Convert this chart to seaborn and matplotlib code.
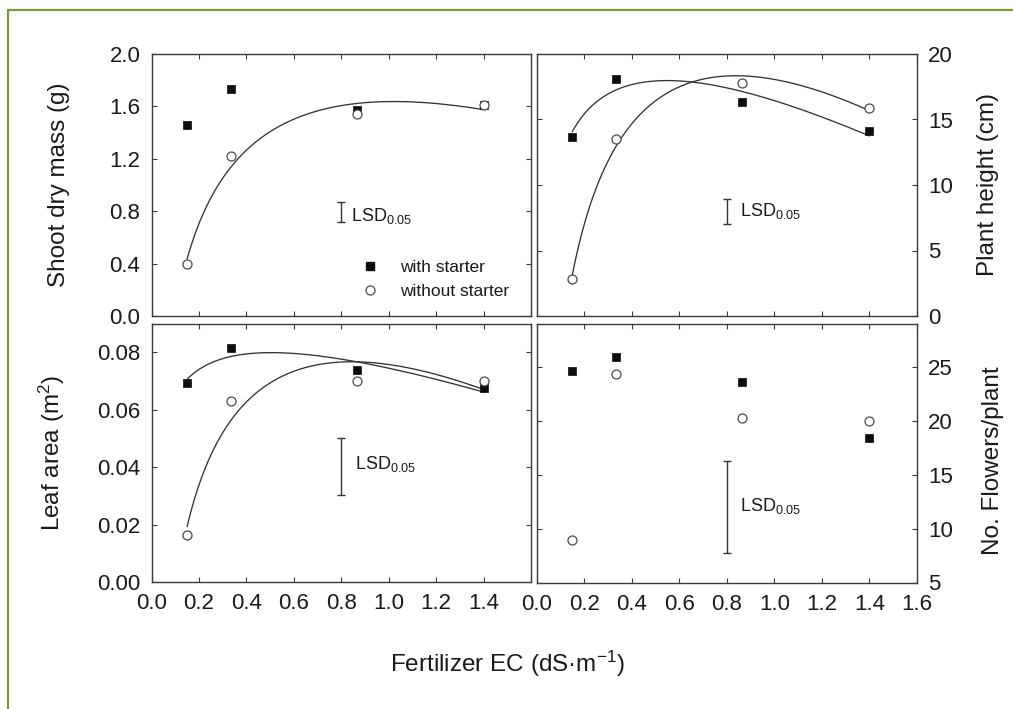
import numpy as np
import matplotlib
matplotlib.use("Agg")
import matplotlib.pyplot as plt
import seaborn as sns
from matplotlib.lines import Line2D

# ---------------- data ----------------
ec = [0.15, 0.335, 0.865, 1.40]

shoot_with = [1.46, 1.73, 1.57, 1.61]
shoot_without = [0.40, 1.22, 1.54, 1.61]
height_with = [13.7, 18.1, 16.3, 14.1]
height_without = [2.85, 13.5, 17.8, 15.9]
leaf_with = [0.0693, 0.0815, 0.0737, 0.0674]
leaf_without = [0.0164, 0.0631, 0.0699, 0.0699]
flowers_with = [24.6, 25.9, 23.6, 18.4]
flowers_without = [8.9, 24.3, 20.2, 20.0]

lsd_x = 0.8
lsd_low = [0.715, 7.02, 0.0303, 7.77]
lsd_high = [0.868, 8.91, 0.0501, 16.3]

series_labels = ["with starter", "without starter"]
ylabels = ["Shoot dry mass (g)", "Plant height (cm)",
           "Leaf area (m$^{\\mathregular{2}}$)", "No. Flowers/plant"]
xlabel = "Fertilizer EC (dS\u00b7m$^{\\mathregular{-1}}$)"
xticks = [0.0, 0.2, 0.4, 0.6, 0.8, 1.0, 1.2, 1.4, 1.6]

# ---------------- style ----------------
sns.set_style("ticks")
plt.rcParams["font.family"] = ["Liberation Sans", "DejaVu Sans"]
plt.rcParams["mathtext.fontset"] = "custom"
plt.rcParams["mathtext.rm"] = "Liberation Sans"
plt.rcParams["mathtext.it"] = "Liberation Sans:italic"
plt.rcParams["mathtext.bf"] = "Liberation Sans:bold"

TXT = "#1a1a1a"
FRAME = "#3a3a3a"
CURVE = "#333333"


def log_fit(x, y, n=300):
    x = np.asarray(x, float)
    y = np.asarray(y, float)
    A = np.column_stack([np.ones_like(x), np.log(x), x])
    coef, *_ = np.linalg.lstsq(A, y, rcond=None)
    xs = np.linspace(x.min(), x.max(), n)
    return xs, coef[0] + coef[1] * np.log(xs) + coef[2] * xs


W, H = 1013, 709
fig = plt.figure(figsize=(W / 100, H / 100), dpi=100)


def rect(l, r, t, b):
    return [l / W, 1 - b / H, (r - l) / W, (b - t) / H]


ax1 = fig.add_axes(rect(151.5, 531, 54, 316))
ax2 = fig.add_axes(rect(536.5, 917, 54, 316))
ax3 = fig.add_axes(rect(151.5, 531, 323.5, 582))
ax4 = fig.add_axes(rect(536.5, 917, 323.5, 582.5))
axes = [ax1, ax2, ax3, ax4]

with_data = [shoot_with, height_with, leaf_with, flowers_with]
without_data = [shoot_without, height_without, leaf_without, flowers_without]
fit_with = [False, True, True, False]
fit_without = [True, True, True, False]
ylims = [(0, 2.0), (0, 20), (0, 0.09), (5, 29)]
yticks = [np.arange(0, 2.01, 0.4), np.arange(0, 20.1, 5),
          np.arange(0, 0.081, 0.02), np.arange(5, 25.1, 5)]
yfmt = ["%.1f", "%d", "%.2f", "%d"]
lsd_text_pos = [(0.842, 0.727), (0.855, 7.63), (0.858, 0.0393), (0.855, 11.61)]

for i, ax in enumerate(axes):
    if fit_without[i]:
        xs, ys = log_fit(ec, without_data[i])
        sns.lineplot(x=xs, y=ys, ax=ax, color=CURVE, lw=0.95, sort=False)
    if fit_with[i]:
        xs, ys = log_fit(ec, with_data[i])
        sns.lineplot(x=xs, y=ys, ax=ax, color=CURVE, lw=0.95, sort=False)
    sns.scatterplot(x=ec, y=with_data[i], ax=ax, marker="s", s=40,
                    color="#0d0d0d", edgecolor="#0d0d0d", linewidth=0.5, zorder=5)
    sns.scatterplot(x=ec, y=without_data[i], ax=ax, marker="o", s=42,
                    facecolor="white", edgecolor="#4a4a4a", linewidth=0.9, zorder=5)
    # LSD bar
    mid = (lsd_low[i] + lsd_high[i]) / 2
    half = (lsd_high[i] - lsd_low[i]) / 2
    ax.errorbar([lsd_x], [mid], yerr=[half], fmt="none", ecolor="#333333",
                elinewidth=1.0, capsize=3, capthick=1.0)
    tx, ty = lsd_text_pos[i]
    ax.text(tx, ty, "LSD$_{\\mathregular{0.05}}$", fontsize=13, color=TXT,
            ha="left", va="baseline")

    ax.set_xlim(0, 1.6)
    ax.set_ylim(*ylims[i])
    ax.set_xticks(xticks)
    ax.set_yticks(yticks[i])
    ax.set_yticklabels([yfmt[i] % v for v in yticks[i]])
    ax.set_xticklabels(["%.1f" % v for v in xticks])
    ax.set_xlabel("")
    ax.set_ylabel("")
    for sp in ax.spines.values():
        sp.set_visible(True)
        sp.set_color(FRAME)
        sp.set_linewidth(1.0)
    ax.tick_params(direction="in", length=3.5, width=0.8, color=FRAME,
                   top=True, bottom=True, left=True, right=True,
                   labelsize=16, labelcolor=TXT, pad=8)
    if ax.legend_:
        ax.legend_.remove()

ax1.tick_params(labelbottom=False, labelleft=True, labelright=False)
ax2.tick_params(labelbottom=False, labelleft=False, labelright=True)
ax3.tick_params(labelbottom=True, labelleft=True, labelright=False)
ax4.tick_params(labelbottom=True, labelleft=False, labelright=True)
# panel 3 does not show the 1.6 label
ax3.set_xticklabels(["%.1f" % v for v in xticks[:-1]] + [""])

# legend in panel 1
handles = [Line2D([], [], marker="s", ls="", color="#0d0d0d", ms=6),
           Line2D([], [], marker="o", ls="", mfc="white", mec="#4a4a4a", ms=6.5, mew=0.9)]
ax1.legend(handles, series_labels, loc="center left", bbox_to_anchor=(0.553, 0.14),
           frameon=False, fontsize=12.5, handlelength=1.0, handletextpad=1.2,
           labelspacing=0.48, borderpad=0, borderaxespad=0, labelcolor=TXT)

# axis labels
fs_lab = 17.5
fig.text(59 / W, 1 - 185 / H, ylabels[0], rotation=90, ha="center", va="center",
         fontsize=fs_lab, color=TXT)
fig.text(52 / W, 1 - 453 / H, ylabels[2], rotation=90, ha="center", va="center",
         fontsize=fs_lab, color=TXT)
fig.text(988 / W, 1 - 184 / H, ylabels[1], rotation=90, ha="center", va="center",
         fontsize=fs_lab, color=TXT)
fig.text(993 / W, 1 - 461 / H, ylabels[3], rotation=90, ha="center", va="center",
         fontsize=fs_lab, color=TXT)
fig.text(507 / W, 1 - 671.5 / H, xlabel, ha="center", va="baseline",
         fontsize=fs_lab, color=TXT)

# olive page border (top and left)
border = "#7a9a3c"
fig.add_artist(Line2D([7.5 / W, 1.0], [1 - 9.5 / H, 1 - 9.5 / H],
                      transform=fig.transFigure, color=border, lw=1.6))
fig.add_artist(Line2D([7.5 / W, 7.5 / W], [0.0, 1 - 9.5 / H],
                      transform=fig.transFigure, color=border, lw=1.6))

fig.savefig("out.png", dpi=100, facecolor="white")
